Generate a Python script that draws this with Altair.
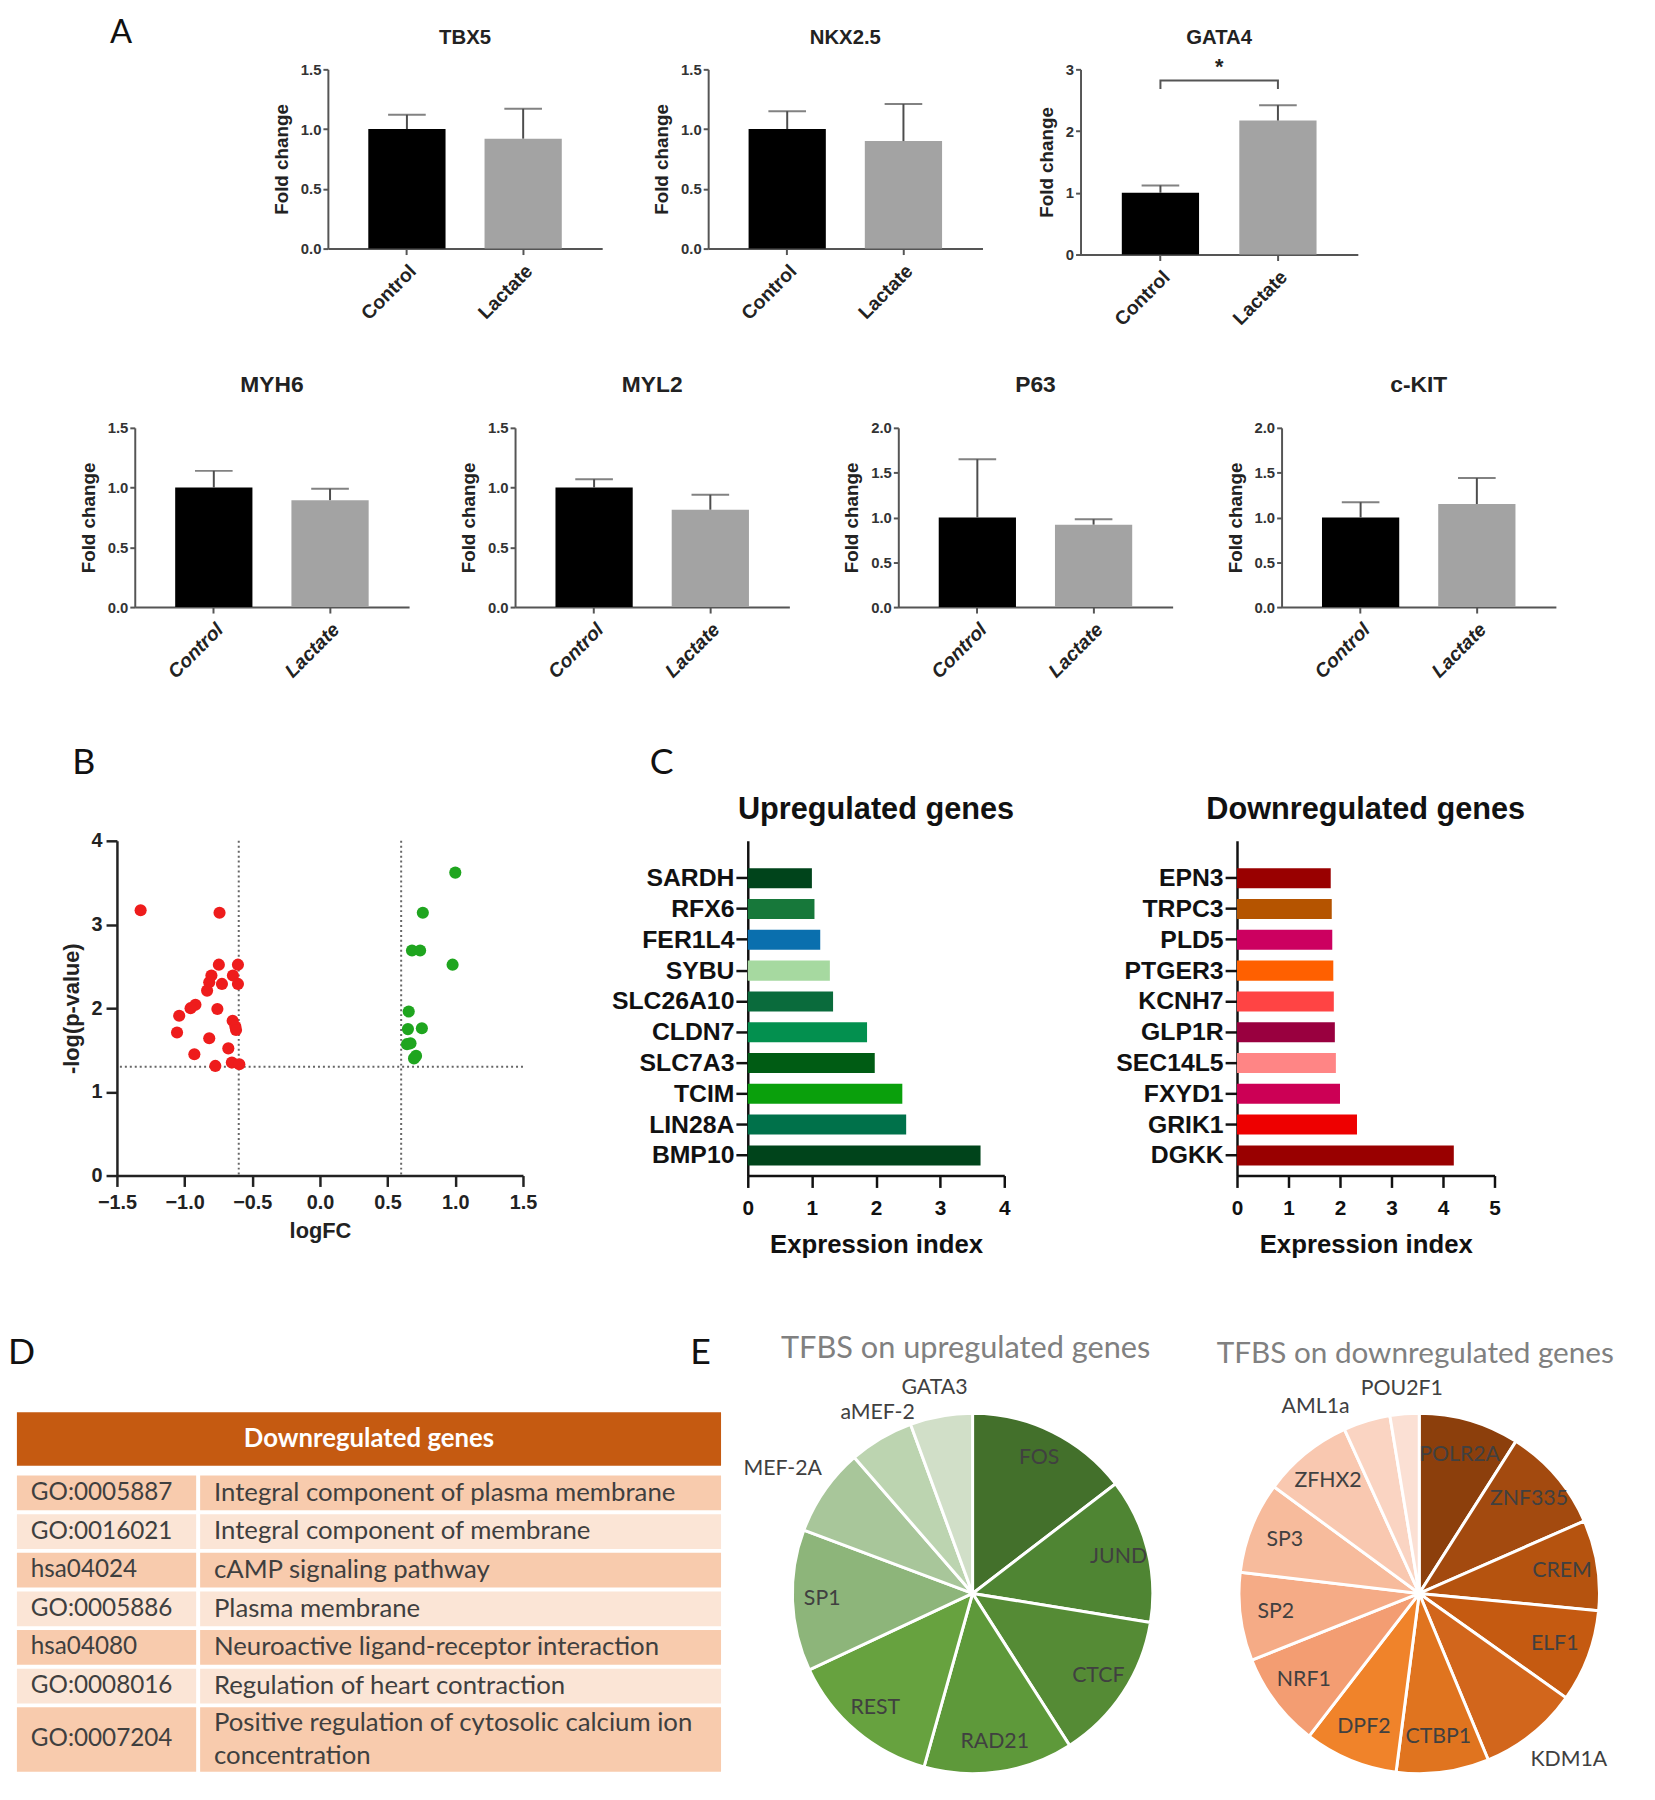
import altair as alt
import pandas as pd

FONT = "Liberation Sans"
CAL = "Lato"

# ---------------- Panel A: qPCR fold change ----------------
groups = ["Control", "Lactate"]
fold_genes = ["TBX5", "NKX2.5", "GATA4", "MYH6", "MYL2", "P63", "c-KIT"]
control_mean = [1.00, 1.00, 1.00, 1.00, 1.00, 1.00, 1.00]
control_err = [0.12, 0.15, 0.12, 0.14, 0.07, 0.65, 0.17]
lactate_mean = [0.92, 0.90, 2.17, 0.895, 0.815, 0.92, 1.15]
lactate_err = [0.25, 0.31, 0.25, 0.095, 0.125, 0.06, 0.29]
fold_ymax = [1.5, 1.5, 3, 1.5, 1.5, 2.0, 2.0]
gata4_bracket_low = 2.68
gata4_bracket_high = 2.82
gata4_star_y = 3.03

# ---------------- Panel B: volcano ----------------
down_logfc = [-1.325, -0.742, -0.747, -0.606, -0.802, -0.643, -0.818, -0.724, -0.606,
              -0.834, -0.920, -0.956, -0.758, -1.040, -0.645, -0.625, -0.620, -1.056,
              -0.818, -0.677, -0.928, -0.773, -0.651, -0.596]
down_nlogp = [3.17, 3.14, 2.52, 2.52, 2.39, 2.39, 2.31, 2.29, 2.29,
              2.21, 2.04, 2.00, 1.99, 1.91, 1.85, 1.78, 1.74, 1.71,
              1.64, 1.52, 1.45, 1.31, 1.35, 1.33]
up_logfc = [1.00, 0.76, 0.68, 0.74, 0.98, 0.656, 0.65, 0.753, 0.643, 0.669, 0.695, 0.71]
up_nlogp = [3.62, 3.14, 2.69, 2.69, 2.52, 1.96, 1.75, 1.76, 1.57, 1.58, 1.40, 1.43]
fc_cut = 0.6
p_cut = 1.3

# ---------------- Panel C: expression index ----------------
up_genes = ["SARDH", "RFX6", "FER1L4", "SYBU", "SLC26A10", "CLDN7", "SLC7A3", "TCIM", "LIN28A", "BMP10"]
up_vals = [1.00, 1.04, 1.13, 1.28, 1.33, 1.86, 1.98, 2.41, 2.47, 3.63]
up_colors = ["#00441b", "#17783a", "#0a6fae", "#a6d9a0", "#0a6b3c", "#03904f", "#005c14", "#0aa00c", "#00714a", "#00441b"]
down_genes = ["EPN3", "TRPC3", "PLD5", "PTGER3", "KCNH7", "GLP1R", "SEC14L5", "FXYD1", "GRIK1", "DGKK"]
down_vals = [1.82, 1.84, 1.85, 1.87, 1.88, 1.90, 1.92, 2.00, 2.33, 4.21]
down_colors = ["#990000", "#b55400", "#cc0060", "#ff6000", "#ff4444", "#99003f", "#ff8585", "#cc0055", "#ee0000", "#990000"]

# ---------------- Panel D: enrichment table ----------------
go_ids = ["GO:0005887", "GO:0016021", "hsa04024", "GO:0005886", "hsa04080", "GO:0008016", "GO:0007204"]
go_terms = ["Integral component of plasma membrane",
            "Integral component of membrane",
            "cAMP signaling pathway",
            "Plasma membrane",
            "Neuroactive ligand-receptor interaction",
            "Regulation of heart contraction",
            "Positive regulation of cytosolic calcium ion\nconcentration"]
table_header = "Downregulated genes"

# ---------------- Panel E: TFBS pies ----------------
up_tf = ["FOS", "JUND", "CTCF", "RAD21", "REST", "SP1", "MEF-2A", "aMEF-2", "GATA3"]
up_share = [14.6, 13.0, 13.4, 13.4, 13.7, 12.7, 7.9, 5.8, 5.6]
up_pie_colors = ["#43702b", "#4f8533", "#558b35", "#5e993a", "#67a23f", "#8db57a", "#a8c69a", "#bcd4b0", "#d1dfc8"]
down_tf = ["POLR2A", "ZNF335", "CREM", "ELF1", "KDM1A", "CTBP1", "DPF2", "NRF1", "SP2", "SP3", "ZFHX2", "AML1a", "POU2F1"]
down_share = [9.0, 9.4, 8.1, 8.3, 8.9, 8.3, 8.4, 8.5, 7.9, 8.2, 8.1, 4.2, 2.6]
down_pie_colors = ["#8c3f0c", "#a34a0f", "#b5530f", "#c55a11", "#d2661c", "#e0741f", "#f0832a",
                   "#f39d72", "#f5ab86", "#f7bb9c", "#f9c8b0", "#fad4c2", "#fbe0d4"]

# labels drawn outside the pie, with small placement nudges (dx, dy) in pixels
up_outside = {"MEF-2A": (-11, 0), "aMEF-2": (16, 7), "GATA3": (0, 9)}
down_outside = {"KDM1A": (17, 0), "AML1a": (-42, 17), "POU2F1": (0, 8)}


# ======================================================================
def gap(w):
    return alt.Chart(pd.DataFrame({"v": [0]})).mark_point(opacity=0).encode(
        x=alt.X("v:Q", axis=None), y=alt.Y("v:Q", axis=None)).properties(width=w, height=1)


def anchor(w, above=None, below=None, label=None, lx=0, ly=0, size=36):
    """Invisible layout helper: fixes the row extent and carries the panel letter."""
    base = alt.Chart(pd.DataFrame({"v": [0]}))
    layers = []
    if above is not None:
        layers.append(base.mark_rule(opacity=0).encode(
            x=alt.value(0), y=alt.value(-above), y2=alt.value(below)))
    else:
        layers.append(base.mark_point(opacity=0).encode(x=alt.value(0), y=alt.value(0)))
    if label is not None:
        layers.append(base.mark_text(text=label, align="left", baseline="alphabetic", font=CAL,
                                     fontSize=size, color="#111111").encode(x=alt.value(lx), y=alt.value(ly)))
    return alt.layer(*layers).properties(width=w, height=1)


def fold_panel(i, width, height, italic, title_size, title_offset):
    ymax = fold_ymax[i]
    if ymax == 3:
        vals, fmt = [0, 1, 2, 3], "d"
    else:
        vals = [k * 0.5 for k in range(int(round(ymax / 0.5)) + 1)]
        fmt = ".1f"
    df = pd.DataFrame({"group": groups,
                       "mean": [control_mean[i], lactate_mean[i]],
                       "err": [control_err[i], lactate_err[i]]})
    df["top"] = df["mean"] + df["err"]
    ax_x = alt.Axis(title=None, labelAngle=-45, labelAlign="right", labelBaseline="top",
                    labelFont=FONT, labelFontWeight="bold", labelFontStyle="italic" if italic else "normal",
                    labelFontSize=19.5, labelColor="#222222", labelPadding=7,
                    domainColor="#555555", domainWidth=2, tickColor="#555555", tickWidth=2, tickSize=6)
    ax_y = alt.Axis(title="Fold change", values=vals, format=fmt, grid=False,
                    labelFont=FONT, labelFontWeight="bold", labelFontSize=15, labelColor="#333333",
                    labelPadding=2, titleFont=FONT, titleFontWeight="bold", titleFontSize=19,
                    titleColor="#222222", titlePadding=9,
                    domainColor="#555555", domainWidth=2, tickColor="#555555", tickWidth=2, tickSize=5)
    x = alt.X("group:N", sort=groups, scale=alt.Scale(domain=groups, paddingInner=0, paddingOuter=0.18), axis=ax_x)

    def y(field):
        return alt.Y(f"{field}:Q", scale=alt.Scale(domain=[0, ymax], nice=False), axis=ax_y)

    base = alt.Chart(df)
    bars = base.mark_bar(size=78).encode(
        x=x, y=y("mean"),
        color=alt.Color("group:N", scale=alt.Scale(domain=groups, range=["#000000", "#a3a3a3"]), legend=None))
    err = base.mark_rule(color="#4d4d4d", strokeWidth=2).encode(x=x, y=y("mean"), y2="top:Q")
    cap = base.mark_tick(color="#4d4d4d", thickness=2, size=38, orient="horizontal").encode(x=x, y=y("top"))
    layers = [bars, err, cap]
    if fold_genes[i] == "GATA4":
        br = pd.DataFrame({"group": [groups[0], groups[0], groups[1], groups[1]],
                           "by": [gata4_bracket_low, gata4_bracket_high, gata4_bracket_high, gata4_bracket_low],
                           "k": [0, 1, 2, 3]})
        bracket = alt.Chart(br).mark_line(color="#555555", strokeWidth=2).encode(x=x, y=y("by"), order="k:Q")
        step = width / (2 + 2 * 0.18)
        star = alt.Chart(pd.DataFrame({"group": [groups[0]], "sy": [gata4_star_y], "t": ["*"]})).mark_text(
            dx=step / 2, font=FONT, fontWeight="bold", fontSize=22, color="#222222", baseline="middle"
        ).encode(x=x, y=y("sy"), text="t:N")
        layers += [bracket, star]
    return alt.layer(*layers).properties(
        width=width, height=height,
        title=alt.TitleParams(text=fold_genes[i], font=FONT, fontSize=title_size, fontWeight="bold",
                              color="#222222", anchor="middle", frame="group", offset=title_offset,
                              baseline="alphabetic"))


def volcano(width, height):
    df = pd.DataFrame({"logFC": down_logfc + up_logfc,
                       "nlp": down_nlogp + up_nlogp,
                       "dir": ["down"] * len(down_logfc) + ["up"] * len(up_logfc)})
    common = dict(labelFont=FONT, labelFontWeight="bold", labelFontSize=20, labelColor="#222222",
                  titleFont=FONT, titleFontWeight="bold", titleFontSize=22, titleColor="#222222",
                  domainColor="#222222", domainWidth=2.5, tickColor="#222222", tickWidth=2.5, tickSize=11,
                  grid=False, labelFlush=False)
    ax_x = alt.Axis(title="logFC", values=[-1.5, -1.0, -0.5, 0, 0.5, 1.0, 1.5], format=".1f",
                    labelPadding=6, titlePadding=9, **common)
    ax_y = alt.Axis(title="-log(p-value)", values=[0, 1, 2, 3, 4], format="d", labelPadding=4,
                    titlePadding=8, **common)
    x = alt.X("logFC:Q", scale=alt.Scale(domain=[-1.5, 1.5], nice=False), axis=ax_x)
    y = alt.Y("nlp:Q", scale=alt.Scale(domain=[0, 4], nice=False), axis=ax_y)
    vr = alt.Chart(pd.DataFrame({"logFC": [-fc_cut, fc_cut]})).mark_rule(
        color="#666666", strokeWidth=2, strokeDash=[2, 3]).encode(x=x)
    hr = alt.Chart(pd.DataFrame({"nlp": [p_cut]})).mark_rule(
        color="#666666", strokeWidth=2, strokeDash=[2, 3]).encode(y=y)
    pts = alt.Chart(df).mark_circle(size=150, opacity=1).encode(
        x=x, y=y,
        color=alt.Color("dir:N", scale=alt.Scale(domain=["down", "up"], range=["#ee1c1c", "#1fa51f"]), legend=None))
    return alt.layer(vr, hr, pts).properties(width=width, height=height)


def gene_bars(genes, vals, colors, xmax, title, width, height):
    df = pd.DataFrame({"gene": genes, "val": vals})
    ax_y = alt.Axis(title=None, labelFont=FONT, labelFontWeight="bold", labelFontSize=25, labelColor="#111111",
                    labelPadding=2, domainColor="#111111", domainWidth=2.5, tickColor="#111111",
                    tickWidth=2.5, tickSize=12)
    ax_x = alt.Axis(title="Expression index", values=list(range(xmax + 1)), format="d", grid=False,
                    labelFont=FONT, labelFontWeight="bold", labelFontSize=21, labelColor="#111111",
                    labelPadding=10, labelFlush=False,
                    titleFont=FONT, titleFontWeight="bold", titleFontSize=26, titleColor="#111111",
                    titlePadding=14, domainColor="#111111", domainWidth=2.5, tickColor="#111111",
                    tickWidth=2.5, tickSize=12)
    return alt.Chart(df).mark_bar().encode(
        y=alt.Y("gene:N", sort=genes, scale=alt.Scale(paddingInner=0.35, paddingOuter=0.61, align=0.73), axis=ax_y),
        x=alt.X("val:Q", scale=alt.Scale(domain=[0, xmax], nice=False), axis=ax_x),
        color=alt.Color("gene:N", scale=alt.Scale(domain=genes, range=colors), legend=None),
    ).properties(width=width, height=height,
                 title=alt.TitleParams(text=title, font=FONT, fontSize=31, fontWeight="bold", color="#111111",
                                       anchor="middle", frame="group", offset=-9, baseline="alphabetic"))


def go_table():
    W, COL1_W, HEADER_H, HEADER_GAP, ROW_H, EXTRA_LINE, GAP = 711, 183, 54, 10, 39, 30, 4
    COL1_PAD, COL2_PAD, LINE_H = 14, 16, 34
    rects = [dict(x0=0, x1=W, y0=0, y1=HEADER_H, fill="#c55a11")]
    ids, terms = [], []
    y0 = HEADER_H + HEADER_GAP
    for i, (gid, term) in enumerate(zip(go_ids, go_terms)):
        n = term.count("\n") + 1
        h = ROW_H + EXTRA_LINE * (n - 1)
        fill = "#f8cbad" if i % 2 == 0 else "#fbe5d6"
        rects.append(dict(x0=0, x1=COL1_W - GAP / 2, y0=y0, y1=y0 + h - GAP, fill=fill))
        rects.append(dict(x0=COL1_W + GAP / 2, x1=W, y0=y0, y1=y0 + h - GAP, fill=fill))
        cy = y0 + (h - GAP) / 2
        ids.append(dict(x=COL1_PAD, y=cy, t=gid))
        terms.append(dict(x=COL1_W + COL2_PAD, y=cy - (n - 1) * LINE_H / 2, t=term))
        y0 += h
    total = y0 - GAP
    xs = alt.Scale(domain=[0, W], nice=False, zero=False)
    ys = alt.Scale(domain=[0, total], nice=False, zero=False, reverse=True)
    enc = dict(x=alt.X("x:Q", scale=xs, axis=None), y=alt.Y("y:Q", scale=ys, axis=None), text="t:N")
    rect = alt.Chart(pd.DataFrame(rects)).mark_rect().encode(
        x=alt.X("x0:Q", scale=xs, axis=None), x2="x1:Q",
        y=alt.Y("y0:Q", scale=ys, axis=None), y2="y1:Q",
        color=alt.Color("fill:N", scale=None))
    id_txt = alt.Chart(pd.DataFrame(ids)).mark_text(
        align="left", baseline="middle", font=CAL, fontSize=24.5, color="#3f3f3f").encode(**enc)
    term_txt = alt.Chart(pd.DataFrame(terms)).mark_text(
        align="left", baseline="middle", font=CAL, fontSize=26, color="#3f3f3f", lineBreak="\n", lineHeight=LINE_H
    ).encode(**enc)
    head = alt.Chart(pd.DataFrame([dict(x=W / 2, y=HEADER_H / 2, t=table_header)])).mark_text(
        align="center", baseline="middle", font=CAL, fontSize=26, fontWeight="bold", color="white"
    ).encode(**enc)
    return alt.layer(rect, id_txt, term_txt, head).properties(width=W, height=total)


def pie(names, shares, colors, outside, title, title_size, dx, offset, r_in, r_out, shift):
    df = pd.DataFrame({"tf": names, "share": shares, "k": list(range(len(names)))})
    df["inner"] = [n if n not in outside else "" for n in names]
    for j, name in enumerate(outside):
        df[f"out{j}"] = [n if n == name else "" for n in names]
    base = alt.Chart(df).encode(theta=alt.Theta("share:Q", stack=True), order=alt.Order("k:Q", sort="ascending"))
    arcs = base.mark_arc(outerRadius=182, stroke="white", strokeWidth=3, yOffset=shift).encode(
        color=alt.Color("tf:N", scale=alt.Scale(domain=names, range=colors), legend=None))
    layers = [arcs,
              base.mark_text(radius=r_in, font=CAL, fontSize=21.5, color="#404040", yOffset=shift).encode(
                  text="inner:N")]
    for j, (name, (ndx, ndy)) in enumerate(outside.items()):
        layers.append(base.mark_text(radius=r_out, font=CAL, fontSize=21.5, color="#404040",
                                     dx=ndx, yOffset=shift + ndy).encode(text=f"out{j}:N"))
    return alt.layer(*layers).properties(
        width=400, height=360,
        title=alt.TitleParams(text=title, font=CAL, fontSize=title_size, fontWeight="normal", color="#808080",
                              anchor="middle", frame="group", dx=dx, offset=offset, baseline="alphabetic"))


def row(*charts):
    return alt.hconcat(*charts, spacing=0, bounds="flush").resolve_scale(color="independent", theta="independent")


# ---------------- layout (plot tops at 53, 415, 832, 1409 in chart pixels) ----------------
row_a1 = row(
    anchor(323, 53, 302, "A", 103, -27, 33),
    fold_panel(0, 277, 181, False, 20.5, -2), gap(107),
    fold_panel(1, 277, 181, False, 20.5, -2), gap(99),
    fold_panel(2, 280, 187, False, 20.5, -8))

row_a2 = row(
    anchor(128, 60, 317),
    fold_panel(3, 277, 181, True, 23, 6), gap(107),
    fold_panel(4, 277, 181, True, 23, 6), gap(110),
    fold_panel(5, 277, 181, True, 23, 6), gap(110),
    fold_panel(6, 277, 181, True, 23, 6))

row_bc = row(
    anchor(110, 100, 477, "B", 65, -67),
    volcano(410, 338),
    anchor(227, label="C", lx=128, ly=-67),
    gene_bars(up_genes, up_vals, up_colors, 4, "Upregulated genes", 259, 338),
    gap(235),
    gene_bars(down_genes, down_vals, down_colors, 5, "Downregulated genes", 260, 338))

row_de = row(
    anchor(9, 100, 368, "D", 0, -49),
    go_table(),
    anchor(54, label="E", lx=-31, ly=-49),
    pie(up_tf, up_share, up_pie_colors, up_outside, "TFBS on upregulated genes", 31, -7, -21, 152, 220, 3),
    gap(51),
    pie(down_tf, down_share, down_pie_colors, down_outside, "TFBS on downregulated genes", 30, -4, -23,
        146, 215, 3))

chart = alt.vconcat(
    row_a1, row_a2, row_bc, row_de, spacing=0
).resolve_scale(
    color="independent", theta="independent"
).properties(
    padding={"left": 0, "top": 0, "right": 0, "bottom": 0}
).configure_view(strokeWidth=0).configure_axis(grid=False)

chart.save("out.html", embed_options={"renderer": "svg", "actions": False})
